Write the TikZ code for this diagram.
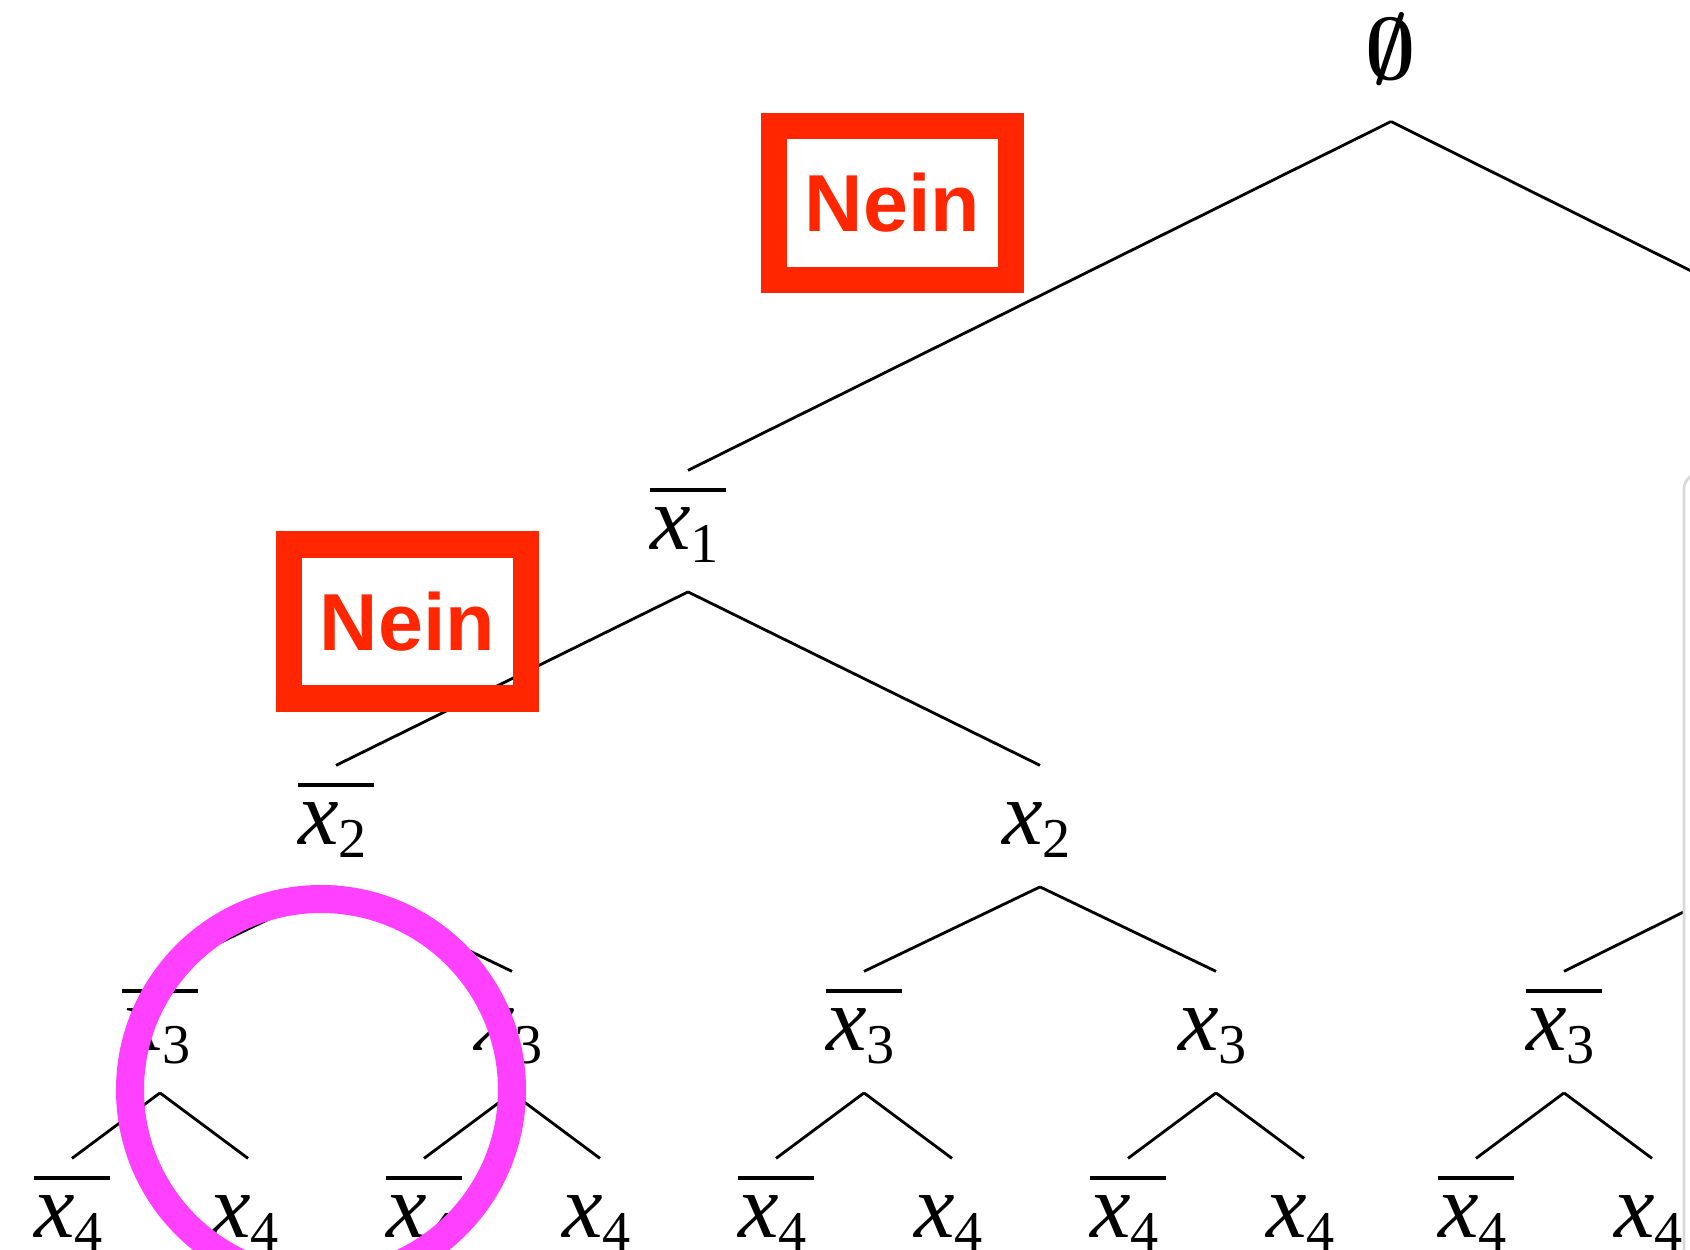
\documentclass[tikz,border=0pt]{standalone}
\usepackage{amsmath}
\usepackage{fontspec}
\setmainfont{Liberation Serif}
\newfontfamily\neinfont{Liberation Sans}
\definecolor{neinred}{RGB}{255,38,0}
\definecolor{ringpink}{RGB}{255,64,255}
\newcommand{\lit}[1]{\textit{x}\raisebox{-3.6pt}{\fontsize{16}{16}\selectfont #1}\kern2pt\vrule width0pt depth6.8pt}
\newcommand{\nlit}[1]{\vbox{\hrule height 1.1pt\kern4.5pt\hbox{\lit{#1}}}}
\newcommand{\plit}[1]{\vbox{\kern5.6pt\hbox{\lit{#1}}}}

\begin{document}
\begin{tikzpicture}[x=0.1mm, y=-0.1mm,
    lbl/.style={anchor=base, inner xsep=0pt, inner ysep=1.73mm, font=\fontsize{26}{30}\selectfont},
    rootlbl/.style={anchor=base, inner xsep=0pt, inner ysep=3.6mm, font=\fontsize{23}{28}\selectfont},
    branch/.style={line width=0.8pt},
    nein/.style={draw=neinred, line width=2.65mm, text=neinred, inner sep=0pt,
        minimum width=23.7mm, minimum height=15.4mm,
        font=\fontsize{23}{28}\selectfont\neinfont\bfseries},
    ring/.style={circle, draw=ringpink, line width=2.8mm, minimum size=38.2mm, inner sep=0pt},
    panel/.style={draw=black!15, fill=white, line width=0.8pt, rounded corners=1.5mm}
]
\useasboundingbox (0,0) rectangle (1690,1250);
\clip (0,0) rectangle (1690,1250);

% labels
\node[rootlbl] (t) at (1391,80) {$\boldsymbol{\emptyset}$};
\node[lbl] (tl) at (688,550) {\nlit{1}};
\node[lbl] (tll) at (336,845) {\nlit{2}};
\node[lbl] (tlr) at (1040,845) {\plit{2}};
\node[lbl] (tlll) at (160,1051) {\nlit{3}};
\node[lbl] (tllr) at (512,1051) {\plit{3}};
\node[lbl] (tlrl) at (864,1051) {\nlit{3}};
\node[lbl] (tlrr) at (1216,1051) {\plit{3}};
\node[lbl] (trll) at (1564,1051) {\nlit{3}};
\node[lbl] (tllll) at (72,1238) {\nlit{4}};
\node[lbl] (tlllr) at (248,1238) {\plit{4}};
\node[lbl] (tllrl) at (424,1238) {\nlit{4}};
\node[lbl] (tllrr) at (600,1238) {\plit{4}};
\node[lbl] (tlrll) at (776,1238) {\nlit{4}};
\node[lbl] (tlrlr) at (952,1238) {\plit{4}};
\node[lbl] (tlrrl) at (1128,1238) {\nlit{4}};
\node[lbl] (tlrrr) at (1304,1238) {\plit{4}};
\node[lbl] (trlll) at (1476,1238) {\nlit{4}};
\node[lbl] (trllr) at (1652,1238) {\plit{4}};
\coordinate (tr) at (2093,471);
\coordinate (trl) at (1740,884);

% branches
\draw[branch] (t.south) -- (tl.north);
\draw[branch] (t.south) -- (tr);
\draw[branch] (tl.south) -- (tll.north);
\draw[branch] (tl.south) -- (tlr.north);
\draw[branch] (tll.south) -- (tlll.north);
\draw[branch] (tll.south) -- (tllr.north);
\draw[branch] (tlr.south) -- (tlrl.north);
\draw[branch] (tlr.south) -- (tlrr.north);
\draw[branch] (trl) -- (trll.north);
\draw[branch] (tlll.south) -- (tllll.north);
\draw[branch] (tlll.south) -- (tlllr.north);
\draw[branch] (tllr.south) -- (tllrl.north);
\draw[branch] (tllr.south) -- (tllrr.north);
\draw[branch] (tlrl.south) -- (tlrll.north);
\draw[branch] (tlrl.south) -- (tlrlr.north);
\draw[branch] (tlrr.south) -- (tlrrl.north);
\draw[branch] (tlrr.south) -- (tlrrr.north);
\draw[branch] (trll.south) -- (trlll.north);
\draw[branch] (trll.south) -- (trllr.north);

% side panel
\draw[panel] (1684,474) rectangle (1800,1300);

% marks
\node[ring] (mark) at (321,1090) {};
\node[nein] (nein1) at (892.5,203) {Nein};
\node[nein] (nein2) at (407.5,621.5) {Nein};
\end{tikzpicture}
\end{document}
